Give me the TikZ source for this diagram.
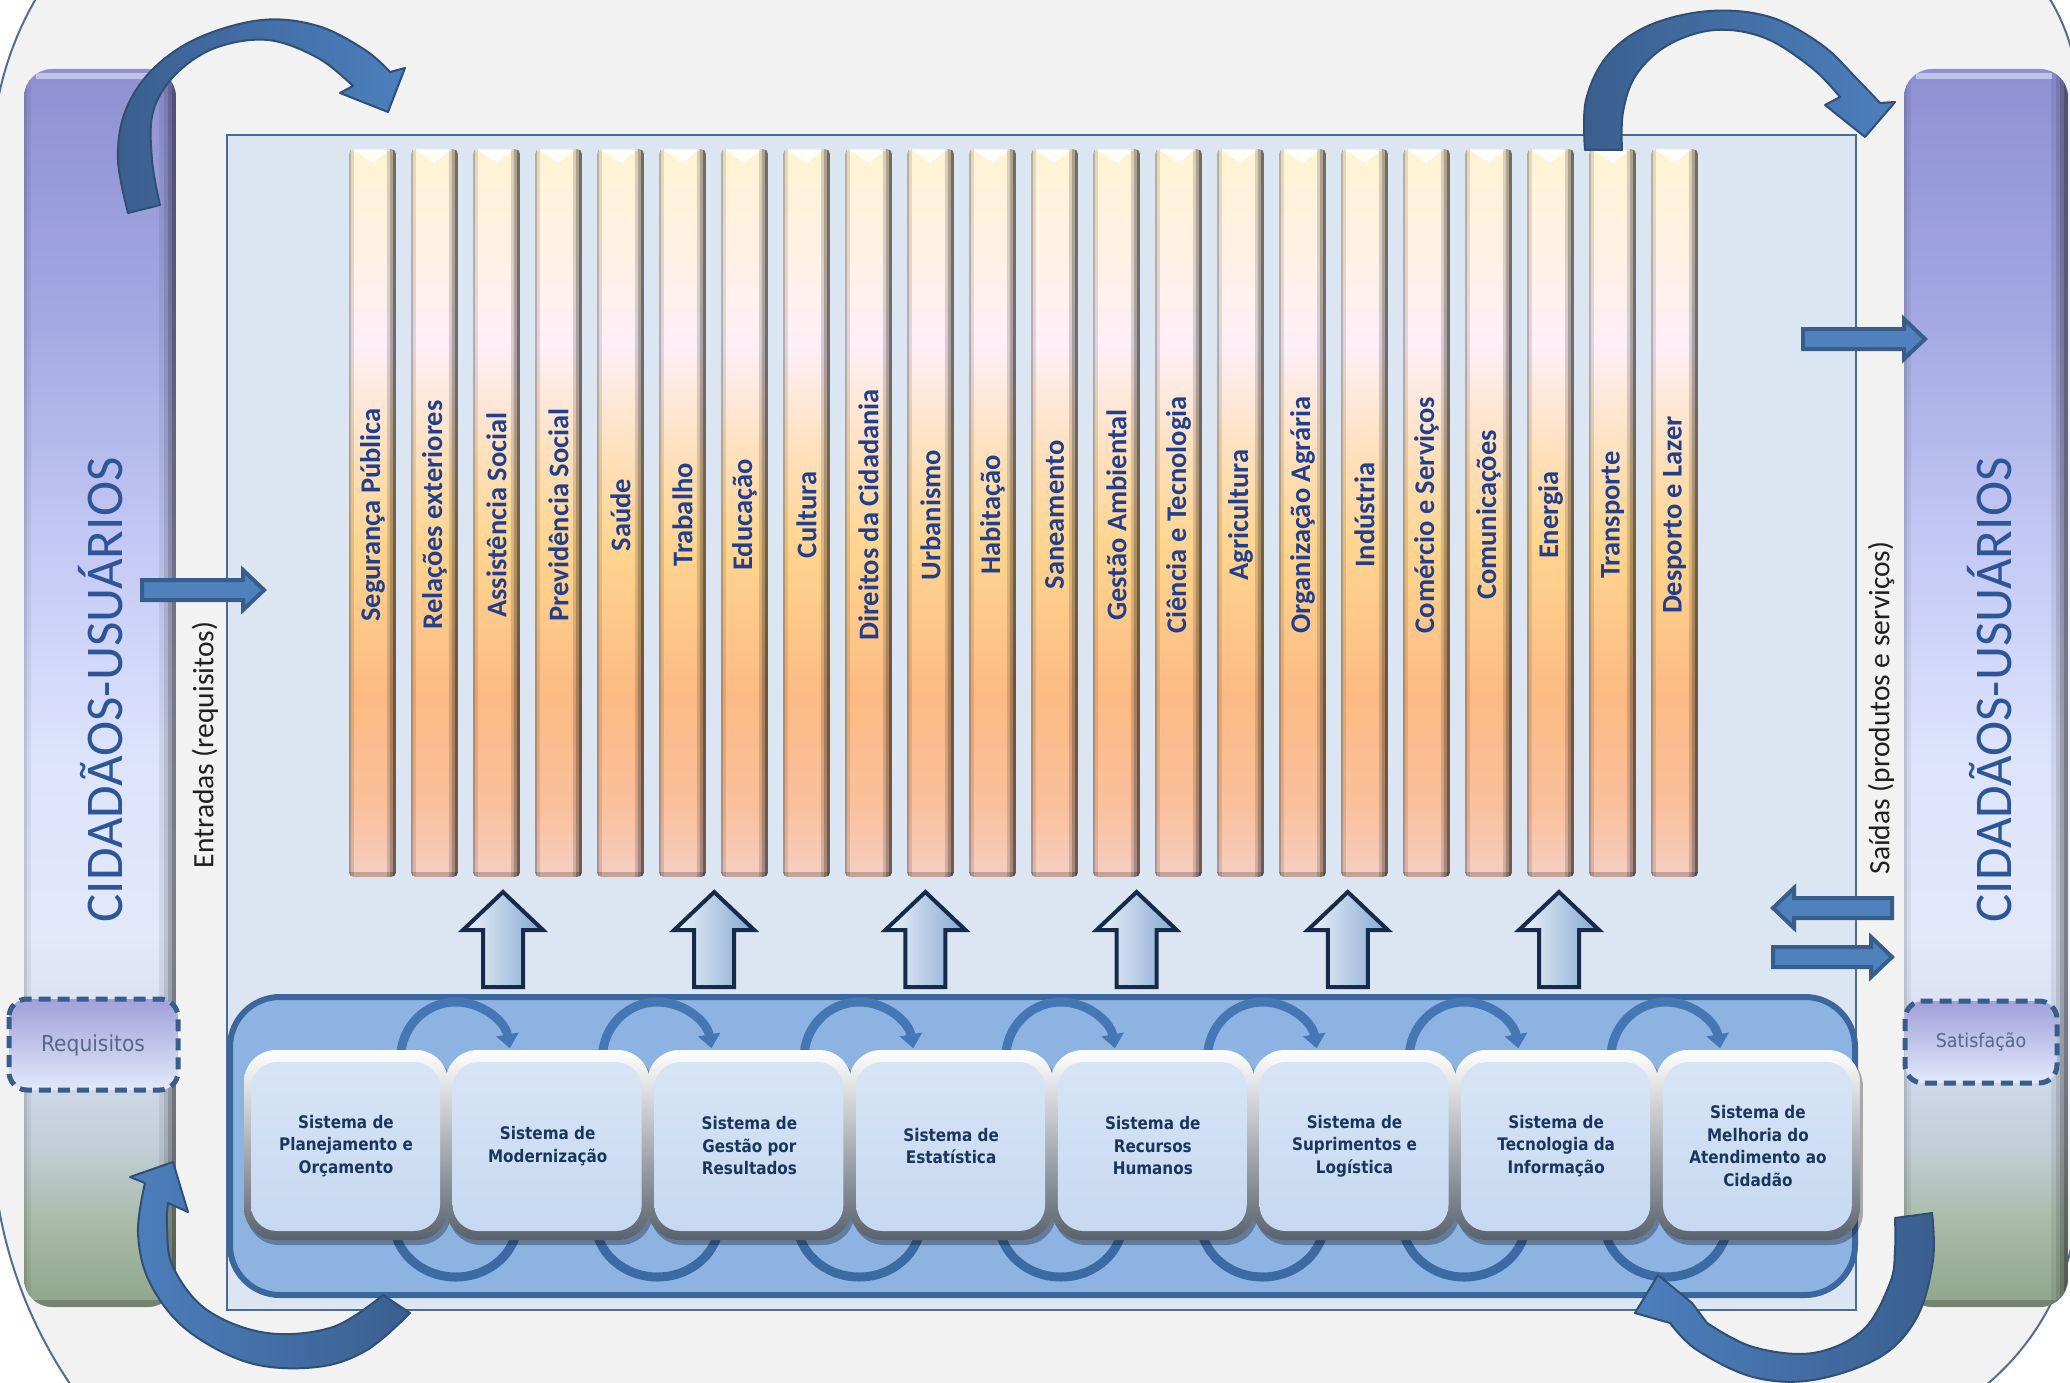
\documentclass[tikz,border=0pt]{standalone}
\usepackage{fontspec}
\setmainfont{Carlito}
\newfontfamily\boxfont[FakeStretch=0.88]{DejaVu Sans}
\newfontfamily\tahfont[FakeStretch=0.92]{DejaVu Sans}
\usetikzlibrary{arrows.meta}
\definecolor{bgray}{HTML}{F2F2F2}
\definecolor{outl}{HTML}{4F6E96}
\definecolor{panel}{HTML}{DCE6F2}
\definecolor{panelb}{HTML}{4A6B98}
\definecolor{grp}{HTML}{8DB3E2}
\definecolor{grpb}{HTML}{3C679D}
\definecolor{face}{HTML}{C6D9F1}
\definecolor{arcc}{HTML}{4676B3}
\definecolor{arcd}{HTML}{3E6AA3}
\definecolor{navy}{HTML}{1B365D}
\definecolor{barlab}{HTML}{213F8C}
\definecolor{cidc}{HTML}{2C5697}
\definecolor{reqc}{HTML}{55688A}
\definecolor{harf}{HTML}{4F81BD}
\definecolor{hard}{HTML}{385D8A}
\definecolor{darkarr}{HTML}{3A5F8F}
\definecolor{lightarr}{HTML}{4C7FBD}
% column shading colours
\definecolor{cg1}{HTML}{8F90D2}
\definecolor{cg2}{HTML}{A3A8E2}
\definecolor{cg3}{HTML}{C3C8F5}
\definecolor{cg4}{HTML}{DCE3FC}
\definecolor{cg5}{HTML}{E2E9FB}
\definecolor{cg6}{HTML}{D3DCEE}
\definecolor{cg7}{HTML}{C3CED8}
\definecolor{cg8}{HTML}{A9BCA9}
\definecolor{cg9}{HTML}{8FA58A}
% bar shading colours
\definecolor{b1}{HTML}{FFF3D3}
\definecolor{b2}{HTML}{FFF1EC}
\definecolor{b3}{HTML}{FDEFF6}
\definecolor{b4}{HTML}{FFDDB0}
\definecolor{b5}{HTML}{FFD48E}
\definecolor{b6}{HTML}{FCBB84}
\definecolor{b7}{HTML}{FAC09C}
\definecolor{b8}{HTML}{F5CEC2}
\pgfdeclareverticalshading{colshade}{100bp}{color(0bp)=(cg9); color(25bp)=(cg9); color(28.5bp)=(cg8); color(31.5bp)=(cg7); color(35bp)=(cg6); color(40bp)=(cg5); color(47.5bp)=(cg4); color(56bp)=(cg3); color(65bp)=(cg2); color(75bp)=(cg1); color(100bp)=(cg1)}
\pgfdeclareverticalshading{barshade}{100bp}{color(0bp)=(b8); color(25bp)=(b8); color(30bp)=(b7); color(37.5bp)=(b6); color(47.5bp)=(b5); color(52.5bp)=(b4); color(61.5bp)=(b3); color(65bp)=(b2); color(75bp)=(b1); color(100bp)=(b1)}
\tikzset{
  barlabel/.style={rotate=90, text=barlab, font=\bfseries\fontsize{28.5}{30}\selectfont, inner sep=0pt},
  boxtext/.style={align=center, text=navy, font=\boxfont\bfseries\fontsize{17.3}{22.5}\selectfont, inner sep=0pt},
  sidetext/.style={rotate=90, text=black!88, font=\fontsize{29.5}{31}\selectfont, inner sep=0pt},
  cidtext/.style={rotate=90, text=cidc, font=\fontsize{53}{57}\selectfont, inner sep=0pt},
  dashbox/.style={draw=hard, line width=5pt, dash pattern=on 12pt off 7pt, rounded corners=18pt, top color=cg1!85!white, bottom color=cg5},
  harrow/.style={fill=harf, draw=hard, line width=4pt, line join=miter},
  uparrow/.style={draw=black!20!navy, line width=4pt, line join=miter, left color=white!70!face, middle color=face, right color=harf!70!white},
  bigarrow/.style={draw=hard!85!black, line width=2pt, line join=round},
  toparc/.style={draw=arcc, line width=9pt, -{Triangle[length=14pt,width=22pt]}},
  botarc/.style={draw=arcd, line width=9pt},
}
\begin{document}
\begin{tikzpicture}[x=1pt,y=-1pt]
\useasboundingbox (0,0) rectangle (2070,1383);
\clip (0,0) rectangle (2070,1383);
\fill[white] (0,0) rectangle (2070,1383);
% big rounded outline
\path[fill=bgray, draw=outl, line width=2pt] (-8,162) arc[start angle=180,end angle=270,radius=325] -- (1883,-95) arc[start angle=270,end angle=360,radius=195] -- (2078,1189) arc[start angle=0,end angle=90,radius=255] -- (447,1584) arc[start angle=90,end angle=180,radius=455] -- cycle;

% side columns
\foreach \xa/\xb in {24/176,1904/2068} {
  \begin{scope}
  \clip[rounded corners=28pt] (\xa,69) rectangle (\xb,1307);
  \shade[shading=colshade] (\xa,69) rectangle (\xb,1307);
  \fill[black,opacity=.45] (\xb-4,69) rectangle (\xb,1307);
  \fill[black,opacity=.3] (\xb-8,69) rectangle (\xb-4,1307);
  \fill[black,opacity=.17] (\xb-12,69) rectangle (\xb-8,1307);
  \fill[black,opacity=.07] (\xb-17,69) rectangle (\xb-12,1307);
  \fill[black,opacity=.15] (\xa,69) rectangle (\xa+3,1307);
  \fill[black,opacity=.06] (\xa+3,69) rectangle (\xa+7,1307);
  \fill[white,opacity=.45] (\xa+12,73) rectangle (\xb-16,79);
  \fill[black,opacity=.2] (\xa,1300) rectangle (\xb,1307);
  \end{scope}
}
\node[cidtext] (cidL) at (101,690) {CIDADÃOS-USUÁRIOS};
\node[cidtext] (cidR) at (1990,690) {CIDADÃOS-USUÁRIOS};

% dashed boxes
\path[dashbox] (9,999) rectangle (178,1090);
\node[text=reqc, font=\tahfont\fontsize{22}{24}\selectfont, inner sep=0pt] (req) at (93,1045) {Requisitos};
\path[dashbox] (1905,1001) rectangle (2057,1083);
\node[text=reqc, font=\tahfont\fontsize{19}{21}\selectfont, inner sep=0pt] (sat) at (1981,1042) {Satisfação};

% main panel
\draw[fill=panel, draw=panelb, line width=2pt] (227,135) rectangle (1856,1310);

% vertical bars
\foreach \t [count=\i from 0] in {Segurança Pública, Relações exteriores, Assistência Social, Previdência Social, Saúde, Trabalho, Educação, Cultura, Direitos da Cidadania, Urbanismo, Habitação, Saneamento, Gestão Ambiental, Ciência e Tecnologia, Agricultura, Organização Agrária, Indústria, Comércio e Serviços, Comunicações, Energia, Transporte, Desporto e Lazer} {
  \pgfmathsetmacro\xa{349+62*\i}
  \pgfmathsetmacro\xb{\xa+47}
  \pgfmathsetmacro\xc{\xa+23.5}
  \begin{scope}
  \clip[rounded corners=5pt] (\xa,149) rectangle (\xb,877);
  \shade[shading=barshade] (\xa,149) rectangle (\xb,877);
  \fill[black,opacity=.55] (\xb-3,149) rectangle (\xb,877);
  \fill[black,opacity=.33] (\xb-6,149) rectangle (\xb-3,877);
  \fill[black,opacity=.15] (\xb-9,149) rectangle (\xb-6,877);
  \fill[black,opacity=.28] (\xa,149) rectangle (\xa+2,877);
  \fill[black,opacity=.11] (\xa+2,149) rectangle (\xa+5,877);
  \fill[white,opacity=.85] (\xa+4,150) -- (\xb-7,150) -- (\xc,163) -- cycle;
  \fill[black,opacity=.2] (\xa,872) rectangle (\xb,877);
  \end{scope}
  \node[barlabel] (bar\i) at (\xc,515) {\t};
}

% up arrows
\foreach \i in {0,...,5} {
  \pgfmathsetmacro\c{503+211.2*\i}
  \path[uparrow] (\c,892) -- (\c+40,930) -- (\c+20,930) -- (\c+20,987) -- (\c-20,987) -- (\c-20,930) -- (\c-40,930) -- cycle;
}

% group of systems
\draw[fill=grp, draw=grpb, line width=6pt, rounded corners=50pt] (230,997) rectangle (1855,1295);
\foreach \k in {1,...,7} {
  \pgfmathsetmacro\cx{244+201.7*\k+10}
  \draw[toparc] (\cx-55,1058) arc[start angle=180, end angle=350, x radius=55, y radius=56];
  \draw[botarc] (\cx+62,1221) arc[start angle=0, end angle=180, x radius=62, y radius=56];
}
\foreach \t [count=\k from 0] in {{Sistema de\\Planejamento e\\Orçamento},{Sistema de\\Modernização},{Sistema de\\Gestão por\\Resultados},{Sistema de\\Estatística},{Sistema de\\Recursos\\Humanos},{Sistema de\\Suprimentos e\\Logística},{Sistema de\\Tecnologia da\\Informação},{Sistema de\\Melhoria do\\Atendimento ao\\Cidadão}} {
  \pgfmathsetmacro\xa{244+201.7*\k}
  \pgfmathsetmacro\xb{\xa+204}
  \fill[black,opacity=.3,rounded corners=32pt] (\xa+3,1054) rectangle (\xb+3,1245);
  \shade[rounded corners=32pt, top color=white, bottom color=black!25!face!60!black] (\xa,1050) rectangle (\xb,1240);
  \shade[rounded corners=26pt, top color=face!70!white, bottom color=face] (\xa+7,1062) rectangle (\xb-8,1231);
  \node[boxtext] (sys\k) at (\xa+102,1146) {\t};
}

% straight block arrows
\path[harrow] (142,580) -- (243,580) -- (243,570) -- (264,590) -- (243,610) -- (243,600) -- (142,600) -- cycle;
\path[harrow] (1803,329) -- (1904,329) -- (1904,319) -- (1925,339) -- (1904,359) -- (1904,349) -- (1803,349) -- cycle;
\path[harrow] (1892,898) -- (1794,898) -- (1794,888) -- (1773,908) -- (1794,928) -- (1794,918) -- (1892,918) -- cycle;
\path[harrow] (1773,947) -- (1871,947) -- (1871,937) -- (1892,957) -- (1871,977) -- (1871,967) -- (1773,967) -- cycle;

% side labels
\node[sidetext] (entr) at (205,745) {Entradas (requisitos)};
\node[sidetext] (said) at (1881,708) {Saídas (produtos e serviços)};

% big curved arrows
\path[bigarrow, left color=darkarr, right color=lightarr] (128,213) -- plot[smooth, tension=.6] coordinates {(128,213) (118,160) (125,112) (152,70) (198,38) (262,20) (318,26) (365,50) (390,72)} -- (405,68) -- (388,112) -- (340,93) -- plot[smooth, tension=.6] coordinates {(353,86) (318,58) (268,40) (215,48) (175,75) (153,112) (152,160) (160,205)} -- cycle;
\path[bigarrow, left color=darkarr, right color=lightarr] (1585,150) -- plot[smooth, tension=.6] coordinates {(1585,150) (1586,100) (1608,55) (1650,25) (1710,11) (1770,17) (1822,45) (1858,80) (1880,103)} -- (1895,102) -- (1865,137) -- (1825,105) -- plot[smooth, tension=.6] coordinates {(1840,97) (1812,68) (1765,38) (1715,30) (1668,45) (1636,75) (1623,112) (1622,150)} -- cycle;
\path[bigarrow, left color=lightarr, right color=darkarr] (383,1295) -- plot[smooth, tension=.6] coordinates {(410,1313) (367,1350) (317,1367) (250,1363) (187,1330) (150,1283) (138,1233) (145,1183)} -- (130,1177) -- (173,1162) -- (188,1212) -- plot[smooth, tension=.6] coordinates {(168,1203) (167,1227) (173,1267) (207,1310) (267,1333) (333,1327) (383,1295)} -- cycle;
\path[bigarrow, left color=lightarr, right color=darkarr] (1895,1218) -- plot[smooth, tension=.6] coordinates {(1932,1213) (1933,1260) (1917,1317) (1880,1357) (1813,1380) (1753,1377) (1697,1350) (1670,1323)} -- (1635,1313) -- (1658,1275) -- (1692,1303) -- plot[smooth, tension=.6] coordinates {(1707,1323) (1753,1347) (1813,1353) (1863,1330) (1890,1283) (1895,1250) (1895,1218)} -- cycle;
\end{tikzpicture}
\end{document}
